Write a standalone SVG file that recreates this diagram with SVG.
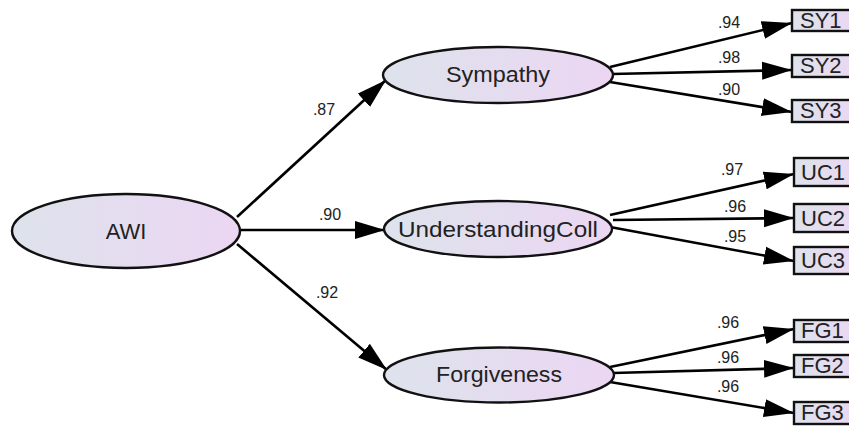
<svg xmlns="http://www.w3.org/2000/svg" width="849" height="428" viewBox="0 0 849 428">
<defs>
<linearGradient id="g" x1="0" y1="0" x2="1" y2="0">
<stop offset="0" stop-color="#dde3ec"/>
<stop offset="1" stop-color="#ecd6f3"/>
</linearGradient>
<marker id="ah" markerUnits="userSpaceOnUse" markerWidth="32" markerHeight="20" refX="30" refY="10" orient="auto" viewBox="0 0 32 20">
<path d="M0,1 L30,10 L0,19 z" fill="#000"/>
</marker>
<style>
.lat{fill:url(#g);stroke:#111;stroke-width:2.4}
.obs{fill:url(#g);stroke:#111;stroke-width:2.4}
.nt{font-family:"Liberation Sans",Arial,sans-serif;font-size:22px;fill:#222;text-anchor:middle}
.bt{font-family:"Liberation Sans",Arial,sans-serif;font-size:22px;fill:#222}
.lb{font-family:"Liberation Sans",Arial,sans-serif;font-size:16px;fill:#222;text-anchor:middle}
.c{stroke:#000;stroke-width:2.6;fill:none;marker-end:url(#ah)}
</style>
</defs>
<rect width="849" height="428" fill="#fff"/>
<g id="connectors">
<line class="c" x1="237" y1="217" x2="386" y2="80"/>
<line class="c" x1="240" y1="230" x2="385" y2="230"/>
<line class="c" x1="237" y1="244" x2="387" y2="370"/>
<line class="c" x1="610" y1="67" x2="792" y2="23"/>
<line class="c" x1="612" y1="74" x2="792" y2="70"/>
<line class="c" x1="610" y1="82" x2="792" y2="112"/>
<line class="c" x1="610" y1="215" x2="794" y2="174"/>
<line class="c" x1="613" y1="220" x2="794" y2="218"/>
<line class="c" x1="610" y1="227" x2="794" y2="261"/>
<line class="c" x1="610" y1="367" x2="794" y2="329"/>
<line class="c" x1="613" y1="373" x2="794" y2="368"/>
<line class="c" x1="610" y1="382" x2="794" y2="413"/>
<text class="lb" x="324" y="115">.87</text>
<text class="lb" x="330" y="220">.90</text>
<text class="lb" x="327" y="298">.92</text>
<text class="lb" x="729" y="28">.94</text>
<text class="lb" x="729" y="63">.98</text>
<text class="lb" x="729" y="95">.90</text>
<text class="lb" x="732" y="175">.97</text>
<text class="lb" x="735" y="212">.96</text>
<text class="lb" x="735" y="242">.95</text>
<text class="lb" x="728" y="328">.96</text>
<text class="lb" x="728" y="363">.96</text>
<text class="lb" x="728" y="392">.96</text>
</g>
<g id="AWI">
<ellipse class="lat" cx="126" cy="231" rx="114" ry="37"/>
<text class="nt" x="126" y="239">AWI</text>
</g>
<g id="Sympathy">
<ellipse class="lat" cx="498" cy="75" rx="115" ry="28"/>
<text class="nt" x="498" y="82" textLength="104" lengthAdjust="spacingAndGlyphs">Sympathy</text>
</g>
<g id="UnderstandingColl">
<ellipse class="lat" cx="498" cy="229" rx="114" ry="28"/>
<text class="nt" x="498" y="237" textLength="200" lengthAdjust="spacingAndGlyphs">UnderstandingColl</text>
</g>
<g id="Forgiveness">
<ellipse class="lat" cx="499" cy="375" rx="115" ry="27.5"/>
<text class="nt" x="499" y="382" textLength="126" lengthAdjust="spacingAndGlyphs">Forgiveness</text>
</g>
<g id="SY1"><rect class="obs" x="792" y="10" width="70" height="21"/><text class="bt" x="800" y="28">SY1</text></g>
<g id="SY2"><rect class="obs" x="792" y="55" width="70" height="22"/><text class="bt" x="800" y="73">SY2</text></g>
<g id="SY3"><rect class="obs" x="792" y="100" width="70" height="22"/><text class="bt" x="800" y="118">SY3</text></g>
<g id="UC1"><rect class="obs" x="794" y="158" width="70" height="28"/><text class="bt" x="801" y="180">UC1</text></g>
<g id="UC2"><rect class="obs" x="794" y="204" width="70" height="28"/><text class="bt" x="801" y="226">UC2</text></g>
<g id="UC3"><rect class="obs" x="794" y="247" width="70" height="27"/><text class="bt" x="801" y="268">UC3</text></g>
<g id="FG1"><rect class="obs" x="794" y="320" width="70" height="22"/><text class="bt" x="801" y="338">FG1</text></g>
<g id="FG2"><rect class="obs" x="794" y="355" width="70" height="22"/><text class="bt" x="801" y="373">FG2</text></g>
<g id="FG3"><rect class="obs" x="794" y="402" width="70" height="22"/><text class="bt" x="801" y="420">FG3</text></g>
</svg>
